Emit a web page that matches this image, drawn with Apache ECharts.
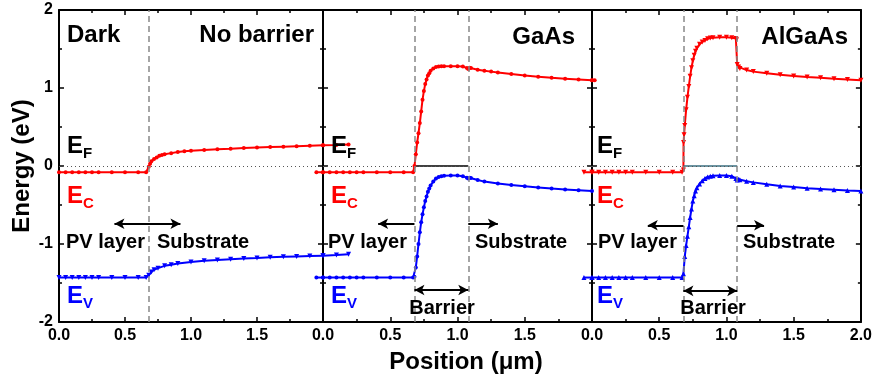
<!DOCTYPE html>
<html>
<head>
<meta charset="utf-8">
<script src="https://cdn.jsdelivr.net/npm/echarts@6/dist/echarts.min.js"></script>
<style>html,body{margin:0;padding:0;background:#fff}#main{width:875px;height:381px}</style>
</head>
<body>
<div id="main"></div>
<script>
// band edges, [position (um), energy (eV)]
var ecDark = [[0,-0.08],[0.05,-0.08],[0.1,-0.08],[0.15,-0.08],[0.2,-0.08],[0.25,-0.08],[0.3,-0.08],[0.4,-0.08],[0.5,-0.08],[0.6,-0.08],[0.66,-0.08],
  [0.68,-0.01],[0.69,0.03],[0.7,0.06],[0.72,0.09],[0.74,0.11],[0.76,0.13],[0.78,0.14],[0.8,0.15],[0.85,0.165],[0.9,0.18],[0.95,0.19],[1.0,0.195],
  [1.1,0.205],[1.2,0.215],[1.3,0.222],[1.4,0.23],[1.5,0.236],[1.6,0.242],[1.7,0.248],[1.8,0.254],[1.9,0.26],[2.0,0.266]];
var evDark = [[0,-1.43],[0.05,-1.43],[0.1,-1.43],[0.15,-1.43],[0.2,-1.43],[0.25,-1.43],[0.3,-1.43],[0.4,-1.43],[0.5,-1.43],[0.6,-1.43],[0.66,-1.43],
  [0.68,-1.4],[0.7,-1.36],[0.72,-1.33],[0.75,-1.31],[0.8,-1.28],[0.85,-1.265],[0.9,-1.25],[1.0,-1.23],[1.1,-1.215],[1.2,-1.205],[1.3,-1.195],
  [1.4,-1.185],[1.5,-1.178],[1.6,-1.17],[1.7,-1.165],[1.8,-1.16],[1.9,-1.155],[2.0,-1.15]];

var ecGaAs = [[0,-0.08],[0.05,-0.08],[0.1,-0.08],[0.15,-0.08],[0.2,-0.08],[0.25,-0.08],[0.3,-0.08],[0.4,-0.08],[0.5,-0.08],[0.6,-0.08],[0.67,-0.08],
  [0.68,0.0],[0.69,0.15],[0.7,0.3],[0.71,0.42],[0.72,0.55],[0.73,0.7],[0.74,0.85],[0.75,0.96],[0.76,1.05],[0.77,1.11],[0.78,1.16],[0.79,1.19],[0.8,1.22],
  [0.82,1.25],[0.84,1.27],[0.86,1.275],[0.88,1.278],[0.9,1.28],[0.95,1.28],[1.0,1.28],[1.04,1.275],[1.07,1.255],[1.08,1.245],[1.09,1.26],[1.1,1.255],
  [1.15,1.235],[1.2,1.22],[1.25,1.21],[1.3,1.2],[1.4,1.18],[1.5,1.16],[1.6,1.145],[1.7,1.13],[1.8,1.12],[1.9,1.11],[2.0,1.1]];
var evGaAs = [[0,-1.43],[0.05,-1.43],[0.1,-1.43],[0.15,-1.43],[0.2,-1.43],[0.25,-1.43],[0.3,-1.43],[0.4,-1.43],[0.5,-1.43],[0.6,-1.43],[0.67,-1.43],
  [0.68,-1.42],[0.69,-1.3],[0.7,-1.16],[0.71,-1.0],[0.72,-0.85],[0.73,-0.72],[0.74,-0.62],[0.75,-0.53],[0.76,-0.45],[0.77,-0.39],[0.78,-0.33],[0.79,-0.29],
  [0.8,-0.25],[0.82,-0.2],[0.84,-0.16],[0.86,-0.14],[0.88,-0.13],[0.9,-0.125],[0.95,-0.122],[1.0,-0.123],[1.04,-0.13],[1.07,-0.15],[1.08,-0.16],
  [1.09,-0.15],[1.1,-0.155],[1.15,-0.18],[1.2,-0.2],[1.3,-0.225],[1.4,-0.245],[1.5,-0.26],[1.6,-0.275],[1.7,-0.29],[1.8,-0.3],[1.9,-0.31],[2.0,-0.32]];

var ecAlGaAs = [[0,-0.08],[0.05,-0.08],[0.1,-0.08],[0.15,-0.08],[0.2,-0.08],[0.25,-0.08],[0.3,-0.08],[0.4,-0.08],[0.5,-0.08],[0.6,-0.08],[0.67,-0.08],
  [0.68,-0.05],[0.681,0.3],[0.685,0.4],[0.69,0.52],[0.7,0.72],[0.71,0.88],[0.72,1.02],[0.73,1.15],[0.74,1.26],[0.75,1.35],[0.76,1.42],[0.77,1.47],
  [0.78,1.51],[0.8,1.56],[0.82,1.59],[0.84,1.61],[0.86,1.63],[0.88,1.64],[0.9,1.645],[0.95,1.65],[1.0,1.65],[1.04,1.645],[1.07,1.635],[1.075,1.62],
  [1.08,1.3],[1.09,1.27],[1.1,1.25],[1.15,1.23],[1.2,1.21],[1.3,1.19],[1.4,1.17],[1.5,1.155],[1.6,1.14],[1.7,1.13],[1.8,1.12],[1.9,1.11],[2.0,1.1]];
var evAlGaAs = [[0,-1.43],[0.05,-1.43],[0.1,-1.43],[0.15,-1.43],[0.2,-1.43],[0.25,-1.43],[0.3,-1.43],[0.4,-1.43],[0.5,-1.43],[0.6,-1.43],[0.67,-1.43],
  [0.68,-1.38],[0.69,-1.16],[0.7,-1.02],[0.71,-0.9],[0.72,-0.78],[0.73,-0.66],[0.74,-0.55],[0.75,-0.45],[0.76,-0.38],[0.77,-0.32],[0.78,-0.28],
  [0.8,-0.23],[0.82,-0.19],[0.84,-0.16],[0.86,-0.14],[0.88,-0.13],[0.9,-0.125],[0.95,-0.122],[1.0,-0.123],[1.04,-0.13],[1.07,-0.16],[1.08,-0.18],
  [1.09,-0.17],[1.1,-0.175],[1.15,-0.195],[1.2,-0.21],[1.3,-0.235],[1.4,-0.255],[1.5,-0.27],[1.6,-0.285],[1.7,-0.295],[1.8,-0.305],[1.9,-0.315],[2.0,-0.32]];

// pieces of each curve that run over into the neighbouring panel (neighbour's x)
var ecDarkTail = [[0,0.266],[0.1,0.27],[0.19,0.275]];      // panel 2
var evDarkTail = [[0,-1.15],[0.1,-1.14],[0.19,-1.13]];     // panel 2
var ecGaAsLead = [[1.95,-0.08],[2.0,-0.08]];               // panel 1
var evGaAsLead = [[1.95,-1.43],[2.0,-1.43]];               // panel 1
var ecGaAsTail = [[0,1.1],[0.02,1.1]];                     // panel 3
var ecAlGaAsLead = [[1.94,-0.08],[2.0,-0.08]];             // panel 2
var evAlGaAsLead = [[1.94,-1.43],[2.0,-1.43]];             // panel 2

// Fermi level under the barrier
var efBarrier = [[0.68,0],[1.08,0]];

var interfaces = [[0.68], [0.68, 1.08], [0.68, 1.08]];

var font = 'Arial, "Liberation Sans", sans-serif';
var grids = [
  {left: 59, top: 10, width: 264, height: 312},
  {left: 323, top: 10, width: 269, height: 312},
  {left: 592, top: 10, width: 269, height: 312}
];

function xAx(i, pos) {
  return {
    type: 'value', gridIndex: i, position: pos, min: 0, max: 2, interval: 0.5,
    axisLine: {show: true, onZero: false, lineStyle: {color: '#000', width: 2}},
    axisTick: {inside: true, length: 5, lineStyle: {color: '#000', width: 1.5}},
    minorTick: {show: true, splitNumber: 2, length: 3, lineStyle: {color: '#000', width: 1.5}},
    splitLine: {show: false},
    axisLabel: {
      show: pos === 'bottom', margin: 6, fontSize: 16, fontWeight: 'bold', color: '#000', fontFamily: font,
      formatter: function (v) { if (i < 2 && v === 2) return ''; return v.toFixed(1); }
    }
  };
}
function yAx(i, pos) {
  return {
    type: 'value', gridIndex: i, position: pos, min: -2, max: 2, interval: 1,
    axisLine: {show: true, onZero: false, lineStyle: {color: '#000', width: 2}},
    axisTick: {inside: true, length: 5, lineStyle: {color: '#000', width: 1.5}},
    minorTick: {show: true, splitNumber: 2, length: 3, lineStyle: {color: '#000', width: 1.5}},
    splitLine: {show: false},
    axisLabel: {show: i === 0 && pos === 'left', margin: 6, fontSize: 16, fontWeight: 'bold', color: '#000', fontFamily: font}
  };
}

var xAxes = [], yAxes = [];
for (var i = 0; i < 3; i++) { xAxes.push(xAx(i, 'bottom')); yAxes.push(yAx(i, 'left')); }
for (var i = 0; i < 3; i++) { xAxes.push(xAx(i, 'top')); yAxes.push(yAx(i, 'right')); }

function band(i, data, color, symbol, rot, marks) {
  return {
    type: 'line', xAxisIndex: i, yAxisIndex: i, data: data,
    symbol: symbol, symbolSize: symbol === 'circle' ? 4 : 5, symbolRotate: rot || 0,
    showAllSymbol: true, animation: false, z: 3,
    lineStyle: {color: color, width: 2}, itemStyle: {color: color},
    markLine: marks
  };
}

function edgeMarks(i) {
  var d = [{yAxis: 0, lineStyle: {type: [1, 3], color: '#555', width: 1}}];
  interfaces[i].forEach(function (x) {
    d.push({xAxis: x, lineStyle: {type: [6, 4], color: '#888', width: 1.5}});
  });
  return {silent: true, symbol: ['none', 'none'], label: {show: false}, animation: false, data: d};
}
function arrowMarks(lines) {
  return {
    silent: true, symbol: ['none', 'arrow'], symbolSize: [8, 10], label: {show: false}, animation: false,
    lineStyle: {type: 'solid', color: '#000', width: 2},
    data: lines
  };
}
function arr(x0, x1, y, both) {
  return [{coord: [x0, y], symbol: both ? 'arrow' : 'none'}, {coord: [x1, y], symbol: 'arrow'}];
}

var series = [
  band(0, ecDark, '#ff0000', 'circle', 0, edgeMarks(0)),
  band(0, evDark, '#0000ff', 'triangle', 180, arrowMarks([arr(0.42, 0.92, -0.74, true)])),
  band(1, ecGaAs, '#ff0000', 'circle', 0, edgeMarks(1)),
  band(1, evGaAs, '#0000ff', 'circle', 0, arrowMarks([arr(0.68, 0.41, -0.74), arr(1.08, 1.30, -0.74), arr(0.68, 1.08, -1.59, true)])),
  band(2, ecAlGaAs, '#ff0000', 'triangle', 180, edgeMarks(2)),
  band(2, evAlGaAs, '#0000ff', 'triangle', 0, arrowMarks([arr(0.68, 0.415, -0.76), arr(1.08, 1.28, -0.76), arr(0.68, 1.08, -1.60, true)])),
  band(1, ecDarkTail, '#ff0000', 'circle', 0),
  band(1, evDarkTail, '#0000ff', 'triangle', 180),
  band(0, ecGaAsLead, '#ff0000', 'circle', 0),
  band(0, evGaAsLead, '#0000ff', 'circle', 0),
  band(2, ecGaAsTail, '#ff0000', 'circle', 0),
  band(1, ecAlGaAsLead, '#ff0000', 'triangle', 180),
  band(1, evAlGaAsLead, '#0000ff', 'triangle', 0),
  {type: 'line', xAxisIndex: 1, yAxisIndex: 1, data: efBarrier, symbol: 'none', animation: false, lineStyle: {color: '#000', width: 1.5}},
  {type: 'line', xAxisIndex: 2, yAxisIndex: 2, data: efBarrier, symbol: 'none', animation: false, lineStyle: {color: '#3a6f80', width: 1.5}}
];

function T(x, y, text, size, color, align, rot) {
  return {
    type: 'text', x: x, y: y, rotation: rot || 0, silent: true, z: 10,
    style: {text: text, font: 'bold ' + size + 'px ' + font, fill: color, align: align || 'left', verticalAlign: 'middle'}
  };
}
function E(x, y, sub, color) {
  return [T(x, y, 'E', 24, color), T(x + 16, y + 8, sub, 15, color)];
}

var graphic = [
  T(67, 35, 'Dark', 24, '#000'),
  T(314, 35, 'No barrier', 24, '#000', 'right'),
  T(575, 37, 'GaAs', 24, '#000', 'right'),
  T(848, 37, 'AlGaAs', 24, '#000', 'right'),
  T(66, 242, 'PV layer', 20, '#000'),
  T(157, 242, 'Substrate', 20, '#000'),
  T(328, 242, 'PV layer', 20, '#000'),
  T(475, 242, 'Substrate', 20, '#000'),
  T(442, 308, 'Barrier', 20, '#000', 'center'),
  T(598, 242, 'PV layer', 20, '#000'),
  T(743, 242, 'Substrate', 20, '#000'),
  T(713, 308, 'Barrier', 20, '#000', 'center'),
  T(22, 166, 'Energy (eV)', 24, '#000', 'center', Math.PI / 2),
  T(466, 362, 'Position (\u03bcm)', 24, '#000', 'center')
];
[67, 331, 597].forEach(function (x) {
  graphic = graphic.concat(E(x, 146, 'F', '#000'), E(x, 196, 'C', '#ff0000'), E(x, 296, 'V', '#0000ff'));
});

echarts.init(document.getElementById('main')).setOption({
  animation: false,
  grid: grids,
  xAxis: xAxes,
  yAxis: yAxes,
  series: series,
  graphic: graphic
});
</script>
</body>
</html>
